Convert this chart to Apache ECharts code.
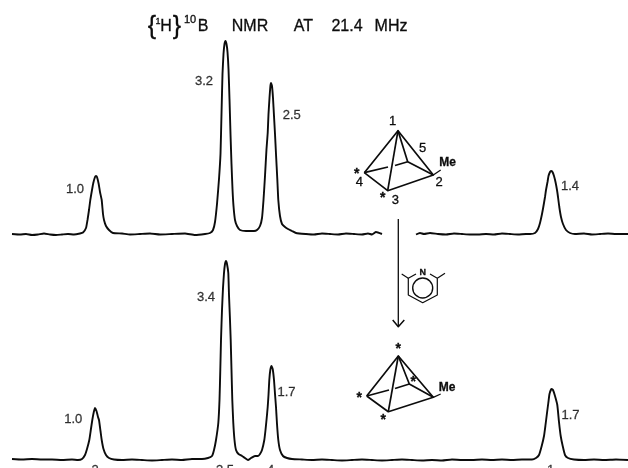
<!DOCTYPE html>
<html>
<head>
<meta charset="utf-8">
<style>html,body{margin:0;padding:0;background:#fff}#c{width:628px;height:468px}</style>
<script src="https://cdn.jsdelivr.net/npm/echarts@6/dist/echarts.min.js"></script>
</head>
<body>
<div id="c"></div>
<script>
// Spectrum traces as [position along the spectrum, intensity above baseline]
const topTrace = [[12,0],[20,-0.5],[26,0],[32,-1],[38,-0.5],[44,0.5],[50,-0.5],[56,-1],[62,-0.5],[68,0],[74,-0.5],[80,0.5],[83,1.5],[86,6],[87.5,14],[89,24],[90.3,34],[92,44],[93.3,51],[95,57],[96,58],[97,57],[98.7,50],[100,42],[101.7,34],[103,20],[104,14],[106,8],[109,4],[113,1],
[122,0.5],[130,-0.5],[140,0],[150,0.5],[160,-0.5],[172,0],[185,0.5],[195,-1],[205,0],[210,1],[213,4],[215,12],[217,30],[219,55],[220.5,80],[221.5,120],[222.5,160],[223.5,180],[224.5,190],[225.5,193],[226.5,190],[227.5,182],[228.5,165],[229.5,135],[230.5,100],[231.5,70],[232.5,45],[233.5,28],[235,14],[237,8],[240,4],[246,3],[254,3],
[257,4],[260,8],[262,16],[263.5,34],[265,58],[266.5,85],[267.7,101],[268.5,120],[269.5,136],[270.5,149],[271,151],[272,148],[273,136],[274,118],[275,100],[276,80],[277.3,55],[278.3,34],[280,18],[282,10],[285,7],[288,5],[292,3],[296,1],
[306,0],[314,-0.5],[322,0.5],[330,0],[338,-0.5],[346,0.5],[354,0],[362,-0.5],[368,0.5],[372,-0.5],[376,2],[382,0],[null,null],
[416,-0.5],[420,1],[424,0],[430,1],[438,0],[446,-0.5],[454,0.5],[462,0],[470,-0.5],[478,-0.5],[486,0],[494,-0.5],[502,0.5],[510,0],[518,-0.5],[526,0],[530,0],[535,1],[538,5],[540,11],[542,20],[543.3,27],[545,37],[546,44],[547.5,52],[548.5,58],[550,62],[551,63],[552.5,62],[554,58],[555.5,52],[557,44],[558,37],[559.3,27],[561,17],[563,10],[566,4],[570,1],[575,0],[584,0.5],[592,-0.5],[600,0],[608,0.5],[616,0],[628,0]];

const bottomTrace = [[12,1],[22,0.5],[32,1],[42,0.5],[52,0.5],[62,0],[72,0.5],[78,0],[82,1],[85,5],[87,11],[89.3,20],[90.8,30],[92.3,40],[93.8,48],[95,52],[96.5,49],[98,43],[99,40],[100.5,29],[101.7,20],[103.5,11],[106,5],[109,2],[114,0.5],
[122,0],[132,0.5],[142,0],[152,-0.5],[162,0],[172,0.5],[182,0],[192,1],[202,1],[208,2],[212,4],[214,10],[216,20],[218.3,37],[219.5,60],[220.3,90],[221,120],[222,150],[223,172],[224,187],[225,196],[226,199],[227,196],[228.3,187],[229,165],[230,140],[230.7,120],[231.5,90],[232.3,60],[233.3,37],[234.5,20],[236,10],[238.5,6],[242,4],[245,2],[248,0],[251,2],[255,4],[258,4],
[260,6],[262,10],[264.3,20],[265.5,30],[266.7,42],[267.7,53],[268.5,65],[269.3,80],[270.3,90],[271.5,94],[272.7,91],[274,80],[275,66],[276,53],[277,36],[278.3,20],[280,10],[283,4],[287,2],[292,1],
[302,0.5],[312,0],[322,0.5],[332,0],[342,-0.5],[352,0],[362,0.5],[372,0],[382,-0.5],[392,0],[402,0.5],[412,0],[422,-0.5],[432,0],[442,-0.5],[452,0.5],[462,0],[472,0],[482,0.5],[492,0],[502,0.5],[512,0],[522,0.5],[532,0.5],[536,2],[539,5],[541.7,14],[544,24],[545.5,35],[547,47],[548.3,57],[549.5,66],[551.5,71],[553,70],[555,64],[557.3,55],[559,38],[560.7,24],[562.7,14],[565,5],[568,2],[574,0.5],[584,0],[594,0.5],[604,0],[616,0.5],[628,0]];

const topPeakPosition = [96,225.5,271,551];
const topPeakIntensity = [58,193,151,63];
const topAreaLabels = ['1.0','3.2','2.5','1.4'];
const bottomPeakPosition = [95,226,271.5,551.5];
const bottomPeakIntensity = [52,199,94,71];
const bottomAreaLabels = ['1.0','3.4','1.7','1.7'];
const boronLabels = ['2','3,5','4','1'];

const ink = '#0c0c0c';
const font = '"Liberation Sans", Arial, sans-serif';

function trace(data, grid) {
  return {
    type: 'line', xAxisIndex: grid, yAxisIndex: grid, data: data.map(p => p[0] === null ? [null, null] : p),
    showSymbol: false, symbol: 'none', clip: false, connectNulls: false, smooth: 0.15,
    lineStyle: {color: ink, width: 1.9}, silent: true, animation: false, z: 3
  };
}
function labelled(xs, ys, texts, offsets) {
  return {
    type: 'scatter', xAxisIndex: offsets.grid, yAxisIndex: offsets.grid, symbolSize: 0, clip: false, silent: true, animation: false,
    data: xs.map((x, i) => ({
      value: [x, ys[i]],
      label: {show: true, formatter: texts[i], position: 'inside', offset: offsets.list[i],
        fontFamily: font, fontSize: 13, color: ink, textBorderColor: ink, textBorderWidth: 0.3}
    }))
  };
}

// ---------- drawings (molecule sketches, reaction arrow, title) ----------
const g = [];
function poly(points, w) {
  g.push({type: 'polyline', silent: true, z: 10, shape: {points},
    style: {stroke: ink, lineWidth: w || 1.7, fill: null, lineJoin: 'round'}});
}
function txt(x, y, text, size, weight) {
  g.push({type: 'text', silent: true, z: 11, x, y, style: {text, fill: ink, stroke: ink, lineWidth: 0.3,
    font: (weight || 400) + ' ' + size + 'px ' + font, textAlign: 'center', textVerticalAlign: 'middle'}});
}
// upper cage
poly([[364.3,172.7],[398,130.7],[433.3,175],[387.7,190.7],[364.3,172.7]]);
poly([[398,130.7],[387.7,190.7]]);
poly([[398,130.7],[407.7,161.7],[433.3,175]]);
poly([[364.3,172.7],[388,167]]);
poly([[395,165.5],[407.7,161.7]]);
poly([[433.3,175],[440.7,170]],1.3);
txt(392.7,121,'1',13); txt(422.7,148,'5',13); txt(439,182.7,'2',13);
txt(359.3,182.7,'4',13); txt(395.3,200,'3',13); txt(356.7,174,'*',14,700); txt(382.7,198,'*',14,700);
txt(447.7,163,'Me',12,700);
// reaction arrow
poly([[398.3,219],[398.3,326]],1.3);
poly([[392.7,320],[398.3,326.7],[404.3,320]],1.5);
// lutidine
poly([[416,274],[408.3,278.3],[408.3,295],[422.7,302.7],[437.3,295],[437.3,278.3],[430,274]],1.2);
poly([[408.3,278.3],[401.7,274]],1.2); poly([[437.3,278.3],[445,273.3]],1.2);
g.push({type:'circle',silent:true,z:10,shape:{cx:422.7,cy:288,r:10},style:{stroke:ink,lineWidth:1.4,fill:null}});
txt(422.7,273,'N',9,700);
// lower cage
poly([[366.7,396],[398.3,356],[433.3,397.3],[388.3,411.7],[366.7,396]]);
poly([[398.3,356],[388.3,411.7]]);
poly([[398.3,356],[409.3,384],[433.3,397.3]]);
poly([[366.7,396],[389,390]]);
poly([[395,388.5],[409.3,384]]);
poly([[433.3,397.3],[440.7,394]],1.3);
txt(398.3,349.5,'*',14,700); txt(359.3,398,'*',14,700); txt(383.3,420,'*',14,700); txt(413.3,382,'*',14,700);
txt(447,388,'Me',12,700);
// title
txt(152,27,'{',25); txt(158,22,'1',9); txt(166,27,'H',16); txt(177,27,'}',25);
txt(190,20,'10',11); txt(203,27,'B',16);
txt(250,27,'NMR',16); txt(303.5,27,'AT',16); txt(347,27,'21.4',16); txt(391,27,'MHz',16);

const option = {
  backgroundColor: '#fff',
  animation: false,
  grid: [
    {left: 0, right: 0, top: 0, height: 234},
    {left: 0, right: 0, top: 234, height: 226}
  ],
  xAxis: [
    {type: 'value', gridIndex: 0, min: 0, max: 628, show: false},
    {type: 'value', gridIndex: 1, min: 0, max: 628, show: false}
  ],
  yAxis: [
    {type: 'value', gridIndex: 0, min: 0, max: 234, show: false},
    {type: 'value', gridIndex: 1, min: 0, max: 226, show: false}
  ],
  series: [
    trace(topTrace, 0),
    trace(bottomTrace, 1),
    labelled(topPeakPosition, topPeakIntensity, topAreaLabels,
      {grid: 0, list: [[-21,13],[-21.5,40],[20.7,32.5],[19,15.7]]}),
    labelled(bottomPeakPosition, bottomPeakIntensity, bottomAreaLabels,
      {grid: 1, list: [[-21.7,11],[-20,36],[15,26.5],[19,26.5]]}),
    labelled(bottomPeakPosition, [0,0,0,0], boronLabels,
      {grid: 1, list: [[0,10],[-1,10],[-1,10],[-1,10]]})
  ],
  graphic: g
};
echarts.init(document.getElementById('c'), null, {renderer: 'canvas'}).setOption(option);
</script>
</body>
</html>
